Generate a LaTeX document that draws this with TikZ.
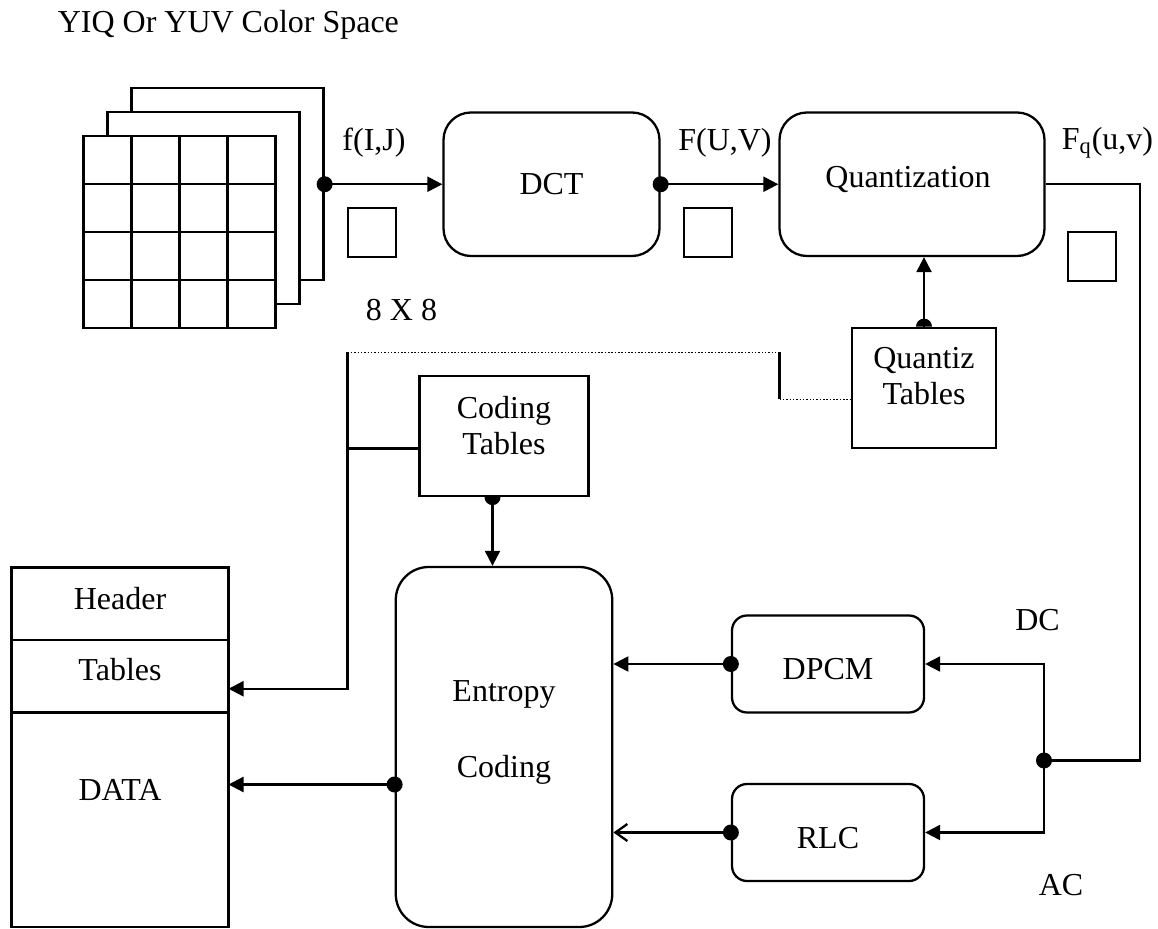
\documentclass[tikz,border=0pt]{standalone}
\usepackage{fontspec}
\setmainfont{Liberation Serif}
\usepackage{tikz}
\usetikzlibrary{arrows.meta, positioning, calc}

\tikzset{
  sbox/.style={draw, line width=1.3pt, fill=white},
  rbox/.style={draw, line width=1.3pt, rounded corners=0.55cm},
  conn/.style={line width=1.3pt},
  arr/.style={line width=1.3pt, -{Triangle[length=3mm, width=3mm]}},
  openarr/.style={line width=1.3pt, -{Straight Barb[length=2.4mm, width=3.4mm]}},
  dotline/.style={line width=0.9pt, densely dotted},
}

\begin{document}
\begin{tikzpicture}[font=\fontsize{18.2}{20.5}\selectfont]
\useasboundingbox (0,0) rectangle (23.16,18.56);

% Title
\node[anchor=west, inner sep=0pt] (title) at (1.15,18.06) {YIQ Or YUV Color Space};

% Stacked 8x8 blocks
\node[sbox, minimum size=3.84cm] (frame3) at (4.55,14.875) {};
\node[sbox, minimum size=3.84cm] (frame2) at (4.07,14.395) {};
\node[sbox, minimum size=3.84cm] (block) at (3.59,13.915) {};
\foreach \i in {1,2,3} {
  \draw[conn] (1.67+0.96*\i,11.995) -- (1.67+0.96*\i,15.835);
  \draw[conn] (1.67,11.995+0.96*\i) -- (5.51,11.995+0.96*\i);
}

% Main chain
\node[rbox, minimum width=4.32cm, minimum height=2.87cm] (dct) at (11.03,14.875) {DCT};
\node[rbox, minimum width=5.30cm, minimum height=2.87cm] (quant) at (18.24,14.875) {};
\node (quanttext) at (18.16,14.97) {Quantization};

\draw[arr] (frame3.east) -- (dct.west);
\draw[arr] (dct.east) -- (quant.west);
\fill (frame3.east) circle (0.16);
\fill (dct.east) circle (0.16);

% Signal labels and 8x8 squares
\node (fij) at (7.48,15.70) {f(I,J)};
\node (fuv) at (14.50,15.70) {F(U,V)};
\node (fq) at (22.15,15.70) {F\textsubscript{q}(u,v)};
\node[sbox, line width=1pt, minimum size=0.97cm] (sq1) at (7.44,13.91) {};
\node[sbox, line width=1pt, minimum size=0.97cm] (sq2) at (14.16,13.91) {};
\node[sbox, line width=1pt, minimum size=0.97cm] (sq3) at (21.84,13.43) {};
\node (size) at (8.03,12.36) {8 X 8};

% Quantization tables
\node[sbox, minimum width=2.89cm, minimum height=2.41cm] (qtab) at (18.48,10.80) {};
\node[align=center] (qtabtext) at (18.48,11.03) {Quantiz\\Tables};
\draw[arr] (qtab.north) -- (qtab.north |- quant.south);
\fill (qtab.north) ++(-0.16,0) arc (180:0:0.16) -- cycle;

% Coding tables
\node[sbox, minimum width=3.38cm, minimum height=2.40cm] (ctab) at (10.08,9.84) {};
\node[align=center] (ctabtext) at (10.08,10.05) {Coding\\Tables};

% Entropy coder
\node[rbox, rounded corners=0.66cm, minimum width=4.33cm, minimum height=7.20cm] (entropy) at (10.08,3.62) {};
\node (entropytext) at (10.08,4.67) {Entropy};
\node (codingtext) at (10.08,3.17) {Coding};
\draw[arr] ([xshift=-0.23cm]ctab.south) -- ([xshift=-0.23cm]ctab.south |- entropy.north);
\fill ([xshift=-0.23cm]ctab.south) ++(0.16,0) arc (0:-180:0.16) -- cycle;

% Output file layout
\node[sbox, outer sep=0pt, minimum width=4.34cm, minimum height=1.45cm] (header) at (2.40,6.485) {};
\node[sbox, outer sep=0pt, minimum width=4.34cm, minimum height=1.45cm, below=0pt of header] (tables) {};
\node[sbox, outer sep=0pt, minimum width=4.34cm, minimum height=4.29cm, below=0pt of tables] (data) {};
\node (headertext) at (2.40,6.58) {Header};
\node (tablestext) at (2.40,5.16) {Tables};
\node (datatext) at (2.40,2.76) {DATA};

% Table paths
\coordinate (dl1) at (6.95,11.51);
\coordinate (dl2) at (15.59,11.51);
\coordinate (dl3) at (15.59,10.57);
\draw[dotline] (dl1) -- (dl2);
\draw[conn] (dl2) -- (dl3);
\draw[dotline] (dl3) -- (dl3 -| qtab.west);
\draw[arr] (dl1) |- ([yshift=-0.25cm]tables.east);
\draw[conn] ([yshift=-0.25cm]ctab.west) -- ([yshift=-0.25cm]ctab.west -| dl1);

\draw[arr] ([yshift=-0.75cm]entropy.west) -- ([yshift=-0.75cm]entropy.west -| data.east);
\fill ([yshift=-0.75cm]entropy.west) circle (0.16);

% DC / AC branches
\node[rbox, rounded corners=0.3cm, minimum width=3.84cm, minimum height=1.94cm] (dpcm) at (16.56,5.28) {};
\node[rbox, rounded corners=0.3cm, minimum width=3.84cm, minimum height=1.94cm] (rlc) at (16.56,1.91) {};
\node (dpcmtext) at (16.56,5.17) {DPCM};
\node (rlctext) at (16.56,1.80) {RLC};
\coordinate (junc) at (20.88,3.35);
\coordinate (fqturn) at (22.80,3.35);

\draw[conn] (quant.east) -| (fqturn) -- (junc);
\draw[arr] (junc) |- (dpcm.east);
\draw[arr] (junc) |- (rlc.east);
\draw[arr] (dpcm.west) -- (dpcm.west -| entropy.east);
\draw[openarr] (rlc.west) -- (rlc.west -| entropy.east);
\fill (junc) circle (0.16);
\fill (dpcm.west) circle (0.16);
\fill (rlc.west) circle (0.16);

\node (dc) at (20.75,6.16) {DC};
\node (ac) at (21.22,0.86) {AC};

\end{tikzpicture}
\end{document}
